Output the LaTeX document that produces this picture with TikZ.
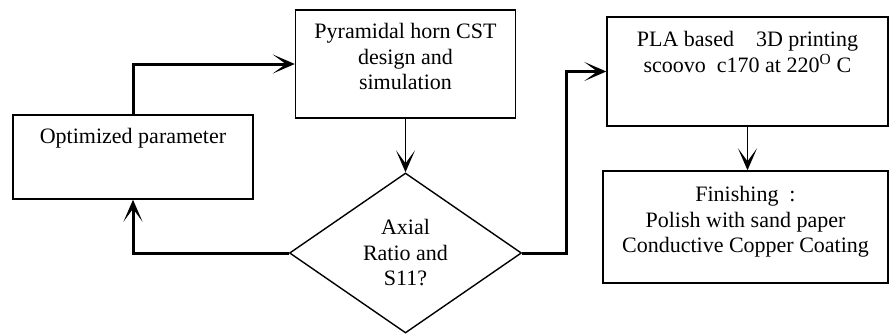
\documentclass[tikz,border=0pt]{standalone}
\usepackage{fontspec}
\setmainfont{Liberation Serif}
\usetikzlibrary{shapes.geometric,arrows.meta,positioning}

\begin{document}
\begin{tikzpicture}[x=1pt, y=-1pt,
    every node/.style={font=\fontsize{22}{25.5}\selectfont},
    block/.style={draw, rectangle, line width=1.4pt, inner sep=0pt},
    decision/.style={draw, diamond, line width=1.4pt, inner sep=0pt, align=center},
    boxtext/.style={align=center, inner sep=0pt},
    flow/.style={line width=1.4pt, -{Stealth[length=22pt, width=19pt, inset=13pt]}},
    mainflow/.style={line width=3pt, -{Stealth[length=22pt, width=19pt, inset=13pt]}}
]
    \useasboundingbox (0,0) rectangle (889,335);

    % Design loop
    \node[block, minimum width=240pt, minimum height=84pt] (opt) at (133,157) {};
    \node[boxtext, below=14pt of opt.north] (opt_txt) {Optimized parameter};

    \node[block, minimum width=220pt, minimum height=108pt] (pyr) at (405.5,64) {};
    \node[boxtext, below=14pt of pyr.north] (pyr_txt) {Pyramidal horn CST\\design and\\simulation};

    \node[decision, minimum width=232pt, minimum height=160pt] (dec) at (405.5,253) {Axial\\Ratio and\\S11?};

    % Fabrication
    \node[block, minimum width=281pt, minimum height=109pt] (pla) at (747.5,71.5) {};
    \node[boxtext, below=15pt of pla.north] (pla_txt) {PLA based\quad 3D printing\\scoovo\ \ c170 at 220\textsuperscript{O} C};

    \node[block, minimum width=285pt, minimum height=112pt] (fin) at (745.5,227) {};
    \node[boxtext, below=16pt of fin.north] (fin_txt) {Finishing\ \ :\\Polish with sand paper\\Conductive Copper Coating};

    % Connectors
    \draw[mainflow] (opt.north) |- (pyr.west);
    \draw[flow] (pyr.south) -- (dec.north);
    \draw[mainflow] (dec.west) -| (opt.south);
    \draw[mainflow] (dec.east) -- ++(44,0) |- (pla.west);
    \draw[flow] (pla.south) -- (pla.south |- fin.north);

\end{tikzpicture}
\end{document}
